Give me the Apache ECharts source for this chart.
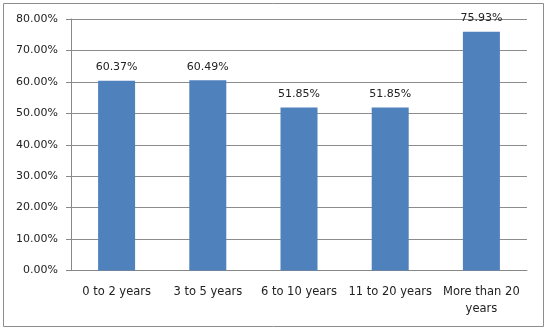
<!DOCTYPE html>
<html>
<head>
<meta charset="utf-8">
<script src="https://cdn.jsdelivr.net/npm/echarts@6/dist/echarts.min.js"></script>
<style>
  html, body { margin: 0; padding: 0; background: #fff; }
  #output { width: 549px; height: 331px; }
</style>
</head>
<body>
<div id="output"></div>
<script>
const categories = ['0 to 2 years', '3 to 5 years', '6 to 10 years', '11 to 20 years', 'More than 20 years']
const values = [60.37, 60.49, 51.85, 51.85, 75.93]
const yTicks = { min: 0, max: 80, interval: 10 }

const chart = echarts.init(document.getElementById('output'))
const font = 'DejaVu Sans'

chart.setOption({
  animation: false,
  textStyle: { fontFamily: font },
  graphic: [{
    type: 'rect',
    shape: { x: 3.5, y: 3.5, width: 540, height: 323 },
    style: { fill: 'none', stroke: '#8c8c8c', lineWidth: 1 },
    silent: true
  }],
  grid: { left: 71, right: 22, top: 19, bottom: 60.5 },
  xAxis: {
    type: 'category',
    data: categories,
    axisLine: { lineStyle: { color: '#888' } },
    axisTick: { alignWithLabel: false, length: 5, lineStyle: { color: '#888' } },
    axisLabel: {
      color: '#222',
      fontSize: 11.5,
      fontFamily: font,
      margin: 13,
      interval: 0,
      lineHeight: 17,
      formatter: v => v.replace('than 20 ', 'than 20\n')
    }
  },
  yAxis: {
    type: 'value',
    min: yTicks.min,
    max: yTicks.max,
    interval: yTicks.interval,
    axisLine: { show: true, lineStyle: { color: '#888' } },
    axisTick: { show: true, length: 5, lineStyle: { color: '#888' } },
    splitLine: { lineStyle: { color: '#8c8c8c', width: 1 } },
    axisLabel: {
      color: '#222',
      fontSize: 11,
      fontFamily: font,
      margin: 13,
      formatter: v => v.toFixed(2) + '%'
    }
  },
  series: [{
    type: 'bar',
    data: values,
    barWidth: 37,
    itemStyle: { color: '#4f81bd' },
    label: {
      show: true,
      position: 'top',
      distance: 8,
      color: '#222',
      fontSize: 11,
      fontFamily: font,
      formatter: p => p.value.toFixed(2) + '%'
    }
  }]
})
</script>
</body>
</html>
